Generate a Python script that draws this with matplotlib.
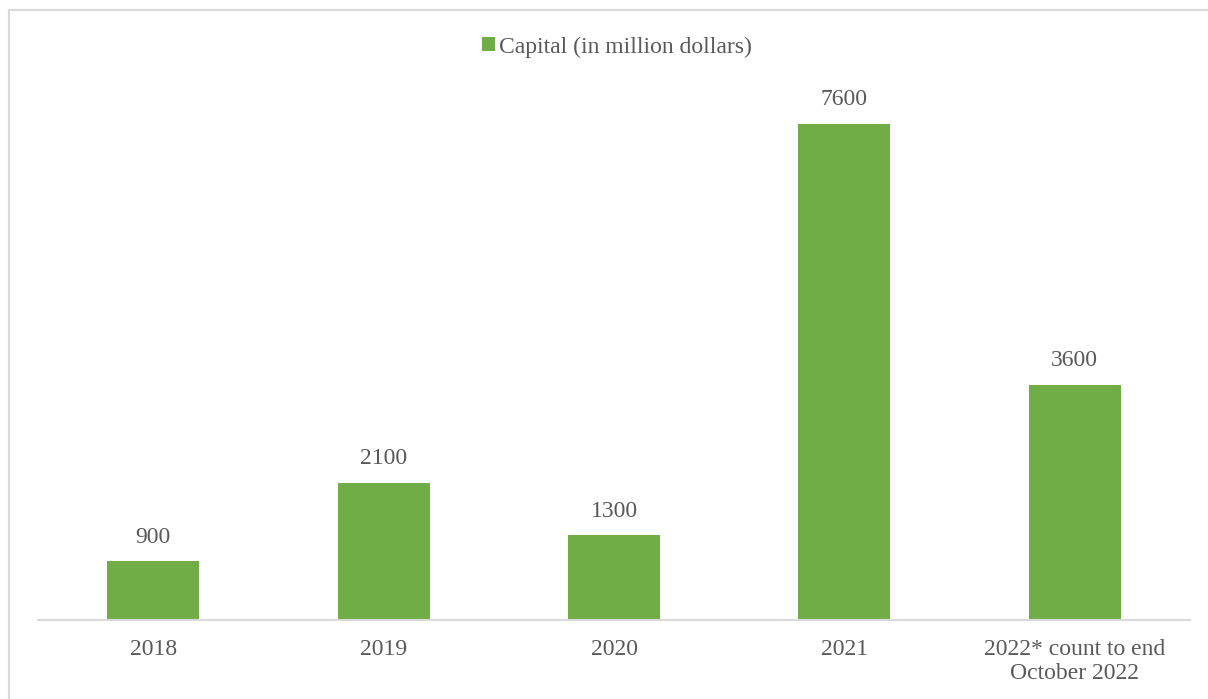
import matplotlib.pyplot as plt
from matplotlib.patches import Rectangle

categories = ['2018', '2019', '2020', '2021', '2022* count to end\nOctober 2022']
capital = [900, 2100, 1300, 7600, 3600]

green = '#70AD47'
grey_text = '#595959'

plt.rcParams['font.family'] = ['Liberation Serif', 'DejaVu Serif']

fig = plt.figure(figsize=(12.08, 6.99), dpi=100)
ax = fig.add_axes([38 / 1208, 79 / 699, 1152 / 1208, 522 / 699])

# outer chart border
fig.patches.append(Rectangle((9 / 1208, -0.1), 1.2, (699 - 10) / 699 + 0.1,
                             transform=fig.transFigure, fill=False,
                             edgecolor='#D9D9D9', linewidth=1.5))

x = list(range(len(categories)))
ax.bar(x, capital, width=0.4, color=green, label='Capital (in million dollars)', zorder=2)

for i, v in enumerate(capital):
    ax.text(i, v + 370, str(v), ha='center', va='center', fontsize=17, color=grey_text)

ax.set_xlim(-0.5, len(categories) - 0.5)
ax.set_ylim(0, 8000)
ax.set_xticks(x)
ax.set_xticklabels(categories, fontsize=17, color=grey_text, linespacing=1.15)
ax.tick_params(axis='x', length=0, pad=14)
ax.set_yticks([])
for s in ['top', 'right', 'left']:
    ax.spines[s].set_visible(False)
ax.spines['bottom'].set_color('#D9D9D9')
ax.spines['bottom'].set_linewidth(1.5)

leg = ax.legend(loc='center', bbox_to_anchor=(617 / 1208, 1 - 47 / 699), bbox_transform=fig.transFigure,
                frameon=False, fontsize=17, handlelength=0.55, handleheight=0.55,
                handletextpad=0.15, labelcolor=grey_text)

fig.savefig('out.png', dpi=100)
